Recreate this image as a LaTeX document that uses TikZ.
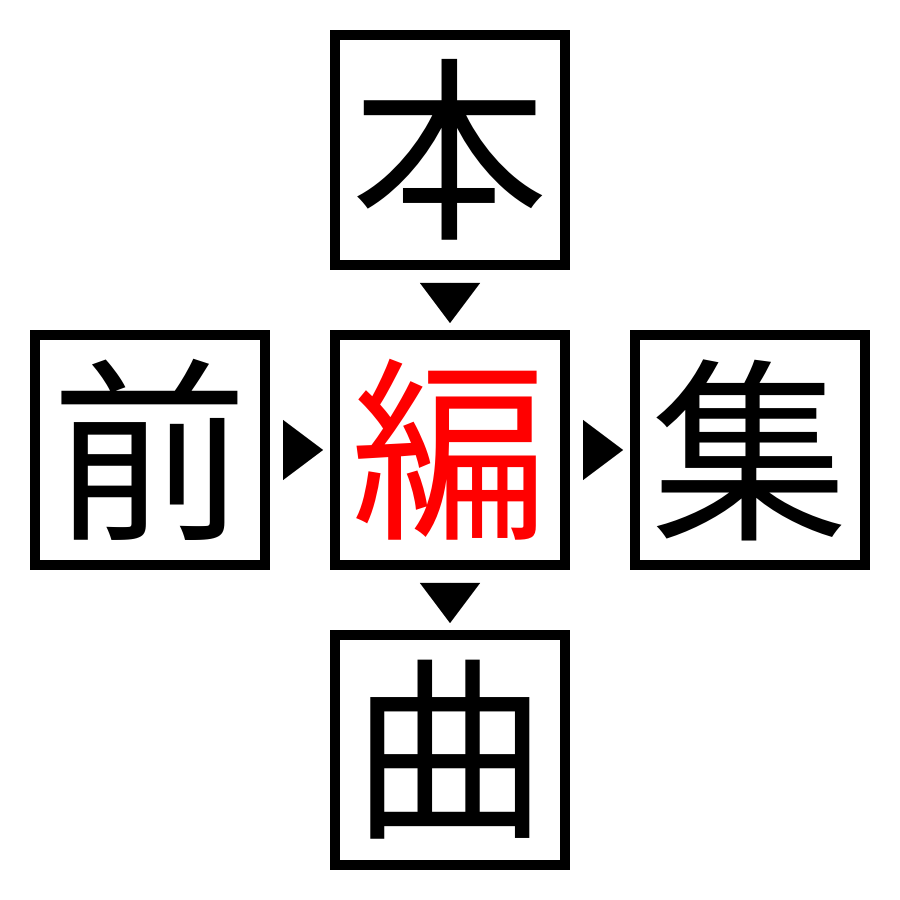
\documentclass[tikz,border=0pt]{standalone}
\usepackage{fontspec}
\newfontfamily\jpfont{Noto Sans CJK JP}
\usetikzlibrary{positioning,arrows.meta}

\begin{document}
\begin{tikzpicture}[node distance=0.6cm, font=\jpfont\fontsize{56pt}{60pt}\selectfont]
  \tikzstyle{every node}=[draw=black,line width=0.1cm,minimum size=2.3cm,inner sep=0pt,shape=rectangle]
  \tikzstyle{tip}=[-{Triangle[length=0.4cm,width=0.6cm]},line width=0.01pt,shorten <=0.13cm,shorten >=0.07cm]
  \useasboundingbox (0,0) rectangle (9,9);

  \node[text=red] (hen) at (4.5,4.5) {編};
  \node (hon) [above=of hen] {本};
  \node (mae) [left=of hen] {前};
  \node (shu) [right=of hen] {集};
  \node (kyoku) [below=of hen] {曲};

  \draw[tip] (hon) -- (hen);
  \draw[tip] (mae) -- (hen);
  \draw[tip] (hen) -- (shu);
  \draw[tip] (hen) -- (kyoku);
\end{tikzpicture}
\end{document}
